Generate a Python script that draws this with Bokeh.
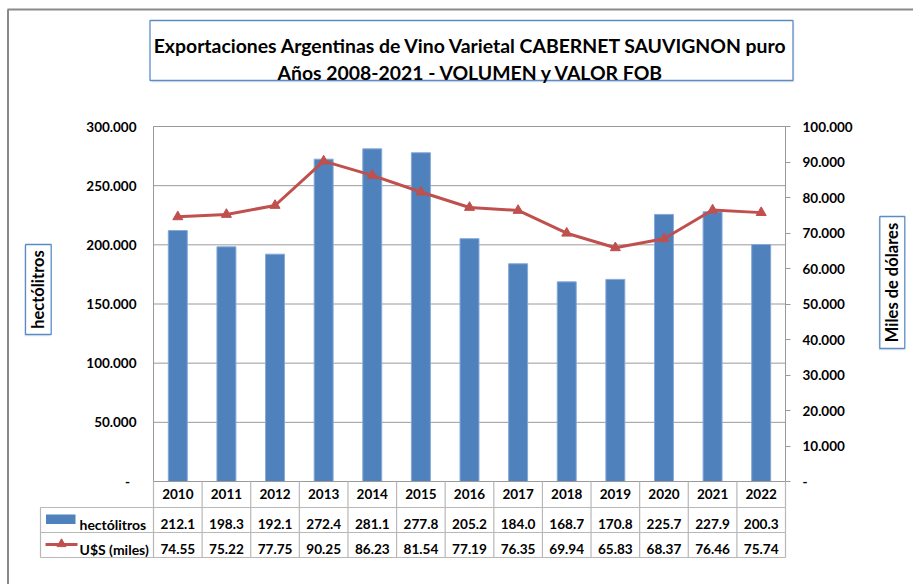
from math import pi
from bokeh.plotting import figure
from bokeh.models import Range1d, LinearAxis, FixedTicker, ColumnDataSource
from bokeh.core.properties import value
from bokeh.embed import file_html
from bokeh.resources import INLINE

# ---------------- data ----------------
years = ["2010", "2011", "2012", "2013", "2014", "2015", "2016",
         "2017", "2018", "2019", "2020", "2021", "2022"]
hectolitros = [212100, 198300, 192100, 272400, 281100, 277800, 205200,
               184000, 168700, 170800, 225700, 227900, 200300]
usd_miles = [74550, 75220, 77750, 90250, 86230, 81540, 77190,
             76350, 69940, 65830, 68370, 76460, 75740]
left_ticks = [0, 50000, 100000, 150000, 200000, 250000, 300000]
right_ticks = [0, 10000, 20000, 30000, 40000, 50000, 60000, 70000, 80000, 90000, 100000]
title_lines = ["Exportaciones Argentinas de Vino Varietal CABERNET SAUVIGNON puro",
               "Años 2008-2021 - VOLUMEN y VALOR FOB"]
left_title = "hectólitros"
right_title = "Miles de dólares"
series_names = ["hectólitros", "U$S (miles)"]

# ---------------- styling / layout ----------------
FONT = value("Lato")
BLUE = "#4F81BD"
RED = "#C0504D"
GRID = "#9a9a9a"
TLINE = "#b8b8b8"
BOXLINE = "#5b8cc8"

W, H = 913, 584                       # canvas size (px)
PL, PR, PT, PB = 153, 785, 126, 481   # plot area edges (px)
n = len(years)
LMAX, RMAX = left_ticks[-1], right_ticks[-1]


def X(px):
    return (px - PL) * n / (PR - PL)


def Y(py):
    return (PB - py) * LMAX / (PB - PT)


def fmt_thousands(v):
    return "-\u00a0\u00a0" if v == 0 else f"{v:,}".replace(",", ".")


p = figure(width=W, height=H, x_range=Range1d(X(0), X(W)), y_range=Range1d(Y(H), Y(0)),
           x_axis_location=None, y_axis_location=None, title=None,
           output_backend="svg", toolbar_location=None, min_border=0)
p.extra_y_ranges = {"usd": Range1d(Y(H) * RMAX / LMAX, Y(0) * RMAX / LMAX)}
p.outline_line_color = None
p.background_fill_color = "white"
p.border_fill_color = "white"
p.xgrid.visible = False
p.ygrid.visible = False

xs = [i + 0.5 for i in range(n)]
src = ColumnDataSource(dict(x=xs, hl=hectolitros, usd=usd_miles,
                            hl_txt=[f"{v / 1000:.1f}" for v in hectolitros],
                            usd_txt=[f"{v / 1000:.2f}" for v in usd_miles]))

# ---------------- outer chart border ----------------
p.segment(x0=[X(7), X(7.5)], y0=[Y(9), Y(9)], x1=[X(W), X(7.5)], y1=[Y(9), Y(H)],
          line_color="#8a8a8a", line_width=2)

# ---------------- plot area ----------------
p.segment(x0=0, x1=n, y0=left_ticks[1:], y1=left_ticks[1:], line_color=GRID, line_width=1)
p.vbar(x="x", top="hl", bottom=0, width=0.39, source=src, fill_color=BLUE,
       line_color="#86a9d8", line_width=1)
p.quad(left=0, right=n, bottom=0, top=LMAX, fill_color=None, line_color=GRID, line_width=1)
p.line(x="x", y="usd", source=src, y_range_name="usd", line_color=RED, line_width=3)
p.scatter(x="x", y="usd", source=src, y_range_name="usd", marker="triangle",
          size=10, fill_color=RED, line_color=RED)


# ---------------- axes (real axes, pinned to plot-area edges) ----------------
def style_axis(ax):
    ax.axis_line_color = None
    ax.minor_tick_line_color = None
    ax.major_label_text_font = "Lato"
    ax.major_label_text_font_style = "bold"
    ax.major_label_text_font_size = "13.5px"
    ax.major_label_text_color = "black"


la = LinearAxis(ticker=FixedTicker(ticks=left_ticks), fixed_location=0,
                major_label_overrides={t: fmt_thousands(t) for t in left_ticks})
style_axis(la)
la.major_tick_out = 0
la.major_tick_in = 0
la.major_label_standoff = 17
p.add_layout(la, "left")

ra = LinearAxis(y_range_name="usd", ticker=FixedTicker(ticks=right_ticks), fixed_location=n,
                major_label_overrides={t: fmt_thousands(t) for t in right_ticks})
style_axis(ra)
ra.major_tick_out = 5
ra.major_tick_in = 0
ra.major_tick_line_color = GRID
ra.major_label_standoff = 12
p.add_layout(ra, "right")

xa = LinearAxis(ticker=FixedTicker(ticks=xs), fixed_location=0,
                major_label_overrides={x: y for x, y in zip(xs, years)})
style_axis(xa)
xa.major_tick_line_color = None
xa.major_tick_out = 0
xa.major_tick_in = 0
xa.major_label_standoff = 7
p.add_layout(xa, "below")

# ---------------- data table ----------------
x0, y0, x1, y1 = [], [], [], []
for i in range(n + 1):
    x0.append(i); y0.append(Y(PB)); x1.append(i); y1.append(Y(557))
for py in (507, 532, 557):
    x0.append(X(40)); y0.append(Y(py)); x1.append(n); y1.append(Y(py))
x0.append(X(40)); y0.append(Y(507)); x1.append(X(40)); y1.append(Y(557))
p.segment(x0=x0, y0=y0, x1=x1, y1=y1, line_color=TLINE, line_width=1.2)

for col, py in (("hl_txt", 523.5), ("usd_txt", 548.5)):
    p.text(x="x", y=Y(py), text=col, source=src, text_align="center",
           text_baseline="alphabetic", text_font=FONT, text_font_style="bold",
           text_font_size="13.6px", text_color="black")

# legend keys inside the table
p.quad(left=X(45.5), right=X(75), top=Y(514), bottom=Y(523.5), fill_color=BLUE, line_color=None)
p.line(x=[X(45), X(77)], y=[Y(544), Y(544)], line_color=RED, line_width=3)
p.scatter(x=[X(61)], y=[Y(543.5)], marker="triangle", size=9, fill_color=RED, line_color=RED)
p.text(x=[X(79), X(79)], y=[Y(523.5), Y(548.5)], text=series_names, text_align="left",
       text_baseline="alphabetic", text_font=FONT, text_font_style="bold",
       text_font_size="14px", text_color="black")

# ---------------- title box ----------------
p.quad(left=X(151), right=X(794), top=Y(22), bottom=Y(82), fill_color="#e4e4e4",
       fill_alpha=0.6, line_color=None)
p.quad(left=X(149.5), right=X(792.5), top=Y(20), bottom=Y(80), fill_color="white",
       line_color=BOXLINE, line_width=1.3)
p.text(x=[X(470.5), X(470.5)], y=[Y(45), Y(71.7)], text=title_lines, text_align="center",
       text_baseline="alphabetic", text_font=FONT, text_font_style="bold",
       text_font_size="19.4px", text_color="black")

# ---------------- axis title boxes ----------------
for (bl, br, bt, bb), txt in (((25, 50.7, 244, 334), left_title),
                              ((879.3, 904.3, 216, 348), right_title)):
    p.quad(left=X(bl - 1.5), right=X(br - 1.5), top=Y(bt + 2), bottom=Y(bb + 2),
           fill_color="#e4e4e4", fill_alpha=0.6, line_color=None)
    p.quad(left=X(bl), right=X(br), top=Y(bt), bottom=Y(bb), fill_color="white",
           line_color=BOXLINE, line_width=1.3)
    p.text(x=[X((bl + br) / 2)], y=[Y((bt + bb) / 2)], text=[txt], angle=pi / 2,
           text_align="center", text_baseline="middle", text_font=FONT,
           text_font_style="bold", text_font_size="16.5px", text_color="black")

open("out.html", "w").write(file_html(p, INLINE))
